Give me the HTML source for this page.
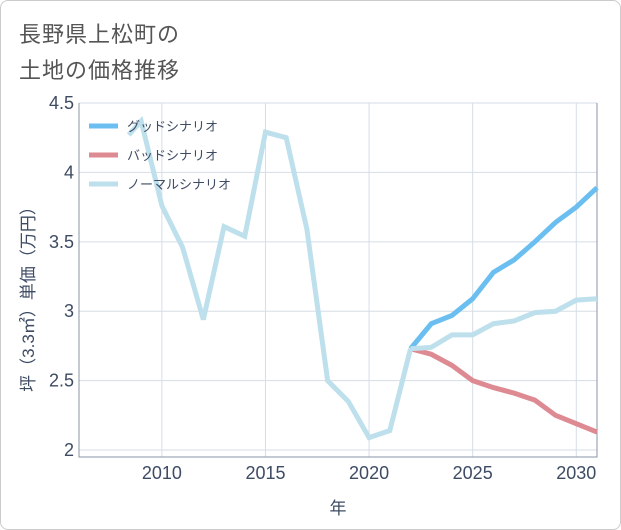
<!DOCTYPE html>
<html><head><meta charset="utf-8"><style>
body{margin:0;background:#fff;}
#wrap{position:relative;width:619px;height:528px;border:1px solid #ccc;border-radius:8px;overflow:hidden;font-family:"Liberation Sans","Noto Sans CJK JP",sans-serif;}
.title{position:absolute;left:18px;font-size:22px;color:#555;letter-spacing:1px;}
</style></head><body>
<div id="wrap">
<div class="title" style="top:16px">長野県上松町の</div>
<div class="title" style="top:52px">土地の価格推移</div>
<svg id="chart" width="621" height="530" style="position:absolute;left:-1px;top:-1px"></svg>
</div>
<script>
const years=[2008.4,2009,2010,2011,2012,2013,2014,2015,2016,2017,2018,2019,2020,2021,2022];
const hist=[4.27,4.37,3.76,3.46,2.94,3.61,3.54,4.29,4.25,3.59,2.50,2.35,2.09,2.14,2.73];
const fYears=[2022,2023,2024,2025,2026,2027,2028,2029,2030,2031];
const good=[2.73,2.91,2.97,3.09,3.28,3.37,3.50,3.64,3.75,3.89];
const bad=[2.73,2.69,2.61,2.50,2.45,2.41,2.36,2.25,2.19,2.13];
const normal=[2.73,2.74,2.83,2.83,2.91,2.93,2.99,3.00,3.08,3.09];
const xTicks=[2010,2015,2020,2025,2030];
const yTicks=[2,2.5,3,3.5,4,4.5];
const yTickLabels=["2","2.5","3","3.5","4","4.5"];
const L=79,R=597,T=103,B=457,X0=2006,X1=2031,Y0=1.95,Y1=4.5;
const x=v=>L+(v-X0)/(X1-X0)*(R-L);
const y=v=>B-(v-Y0)/(Y1-Y0)*(B-T);
const svg=document.getElementById('chart');
const NS='http://www.w3.org/2000/svg';
function mk(t,a){const e=document.createElementNS(NS,t);for(const k in a)e.setAttribute(k,a[k]);svg.appendChild(e);return e;}
xTicks.forEach(v=>{const g=mk('line',{x1:x(v),x2:x(v),y1:T,y2:B,stroke:'#d5dde6','stroke-width':1});


const t=mk('text',{x:x(v),y:B+22,'text-anchor':'middle','font-size':18,fill:'#3d4b63'});t.textContent=v;

});
yTicks.forEach((v,i)=>{const g=mk('line',{x1:L,x2:R,y1:y(v),y2:y(v),stroke:'#d5dde6','stroke-width':1});


const t=mk('text',{x:L-5,y:y(v)+6,'text-anchor':'end','font-size':18,fill:'#3d4b63'});t.textContent=yTickLabels[i];

});
const ax=mk('path',{d:`M${L},${T}V${B}H${R}V${T}`,fill:'none',stroke:'#8a96a6','stroke-width':1});


function line(xs,vs,c,name){const p=mk('polyline',{points:xs.map((v,i)=>x(v)+','+y(vs[i])).join(' '),fill:'none',stroke:c,'stroke-width':5,'stroke-linejoin':'miter'});

}
line(fYears,good,'#6bbff0','good-scenario-line');
line(fYears,bad,'#de8a92','bad-scenario-line');
line(fYears,normal,'#bde0ec','normal-scenario-line');
line(years,hist,'#bde0ec','historical-line');
const leg=[['グッドシナリオ','#6bbff0'],['バッドシナリオ','#de8a92'],['ノーマルシナリオ','#bde0ec']];
leg.forEach((d,i)=>{const yy=126+i*29;
const l=mk('line',{x1:89,x2:118,y1:yy,y2:yy,stroke:d[1],'stroke-width':5});


const t=mk('text',{x:127,y:yy+5,'font-size':13,fill:'#3d4b63'});t.textContent=d[0];

});
const xt=mk('text',{x:(L+R)/2,y:514,'text-anchor':'middle','font-size':17,fill:'#3d4b63'});xt.textContent='年';


const yt=mk('text',{x:0,y:0,'text-anchor':'middle','font-size':17,fill:'#3d4b63',transform:'translate(34,295) rotate(-90)'});yt.textContent='坪（3.3㎡）単価（万円）';


</script>
</body></html>
